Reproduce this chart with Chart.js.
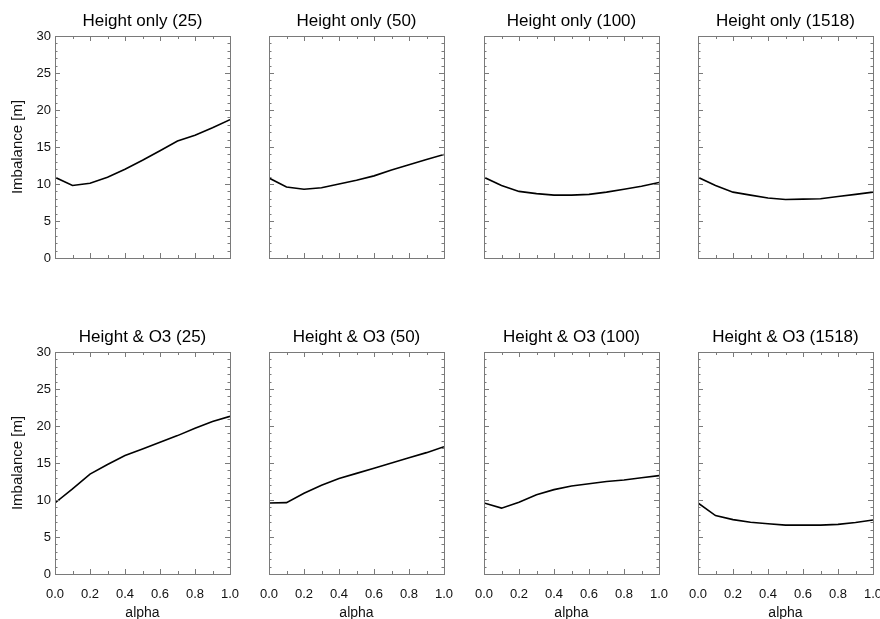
<!DOCTYPE html>
<html>
<head>
<meta charset="utf-8">
<script src="https://cdn.jsdelivr.net/npm/chart.js@4.4.1/dist/chart.umd.min.js"></script>
<style>
  html, body { margin: 0; padding: 0; background: #fff; overflow: hidden; }
  body { width: 880px; height: 619px; position: relative; }
  canvas.panel { position: absolute; }
</style>
</head>
<body>
<script>
// Imbalance vs alpha, 2 rows (height only / height & O3) x 4 cut-offs.
const alpha = [0.0, 0.1, 0.2, 0.3, 0.4, 0.5, 0.6, 0.7, 0.8, 0.9, 1.0];

const heightOnly25   = [10.9, 9.8, 10.1, 10.9, 12.0, 13.2, 14.5, 15.8, 16.6, 17.6, 18.7];
const heightOnly50   = [10.8, 9.6, 9.3, 9.5, 10.0, 10.5, 11.1, 11.9, 12.6, 13.3, 14.0];
const heightOnly100  = [10.9, 9.8, 9.0, 8.7, 8.5, 8.5, 8.6, 8.9, 9.3, 9.7, 10.2];
const heightOnly1518 = [10.9, 9.8, 8.9, 8.5, 8.1, 7.9, 7.95, 8.0, 8.3, 8.6, 8.9];

const heightO3_25   = [9.6, 11.5, 13.5, 14.8, 16.0, 16.9, 17.8, 18.7, 19.7, 20.6, 21.3];
const heightO3_50   = [9.6, 9.65, 10.9, 12.0, 12.9, 13.6, 14.3, 15.0, 15.7, 16.4, 17.2];
const heightO3_100  = [9.6, 8.9, 9.7, 10.7, 11.4, 11.9, 12.2, 12.5, 12.7, 13.0, 13.3];
const heightO3_1518 = [9.6, 7.9, 7.35, 7.0, 6.8, 6.6, 6.6, 6.6, 6.7, 6.95, 7.3];

const panelTitles = [
  'Height only (25)', 'Height only (50)', 'Height only (100)', 'Height only (1518)',
  'Height & O3 (25)', 'Height & O3 (50)', 'Height & O3 (100)', 'Height & O3 (1518)',
];
const panelSeries = [
  heightOnly25, heightOnly50, heightOnly100, heightOnly1518,
  heightO3_25, heightO3_50, heightO3_100, heightO3_1518,
];

const yTitle = 'Imbalance [m]';
const xTitle = 'alpha';

const FONT = "'Liberation Sans', Arial, Helvetica, sans-serif";
const TEXT = '#111';
const FRAME = '#7a7a7a';

// panel geometry: plot box 175x222; the canvas gets equal side margins
// so the built-in title centres over the box
const COL_LEFT = [0, 214, 429, 643];
const ROW_TOP = [0, 316];
const M_SIDE = 55, M_TOP = 36, M_BOTTOM = 50;
const BOX_W = 175, BOX_H = 222;

// IDL-style box: thin frame on all four sides, ticks pointing inwards
const framePlugin = {
  id: 'idlFrame',
  afterDatasetsDraw(chart) {
    const { ctx, chartArea: a, scales: { x, y } } = chart;
    ctx.save();
    ctx.strokeStyle = FRAME;
    ctx.lineWidth = 1;
    ctx.strokeRect(a.left + 0.5, a.top + 0.5, a.width, a.height);
    ctx.beginPath();
    for (let i = 0; i <= 10; i++) {
      const px = Math.round(x.getPixelForValue(i / 10)) + 0.5;
      const len = i % 2 === 0 ? 5 : 3;
      ctx.moveTo(px, a.bottom); ctx.lineTo(px, a.bottom - len);
      ctx.moveTo(px, a.top); ctx.lineTo(px, a.top + len);
    }
    for (let v = 0; v <= 30; v++) {
      const py = Math.round(y.getPixelForValue(v)) + 0.5;
      const len = v % 5 === 0 ? 5 : 2.5;
      ctx.moveTo(a.left, py); ctx.lineTo(a.left + len, py);
      ctx.moveTo(a.right, py); ctx.lineTo(a.right - len, py);
    }
    ctx.stroke();
    ctx.restore();
  },
};

panelSeries.forEach((values, idx) => {
  const row = Math.floor(idx / 4);
  const col = idx % 4;

  const canvas = document.createElement('canvas');
  canvas.className = 'panel';
  canvas.width = M_SIDE + BOX_W + M_SIDE;
  canvas.height = M_TOP + BOX_H + M_BOTTOM;
  canvas.style.width = canvas.width + 'px';
  canvas.style.height = canvas.height + 'px';
  canvas.style.left = COL_LEFT[col] + 'px';
  canvas.style.top = ROW_TOP[row] + 'px';
  document.body.appendChild(canvas);

  new Chart(canvas, {
    type: 'line',
    plugins: [framePlugin],
    data: {
      datasets: [{
        data: alpha.map((a, i) => ({ x: a, y: values[i] })),
        borderColor: '#000',
        borderWidth: 1.6,
        pointRadius: 0,
        tension: 0,
        fill: false,
      }],
    },
    options: {
      responsive: false,
      animation: false,
      devicePixelRatio: 1,
      layout: { padding: 0 },
      plugins: {
        legend: { display: false },
        tooltip: { enabled: false },
        title: {
          display: true,
          text: panelTitles[idx],
          color: '#000',
          font: { family: FONT, size: 17, weight: 'normal' },
          padding: { top: 11.3, bottom: 4.3 },
        },
      },
      scales: {
        x: {
          type: 'linear',
          min: 0,
          max: 1,
          grid: { display: false, drawTicks: false },
          border: { display: false },
          ticks: {
            display: row === 1,
            stepSize: 0.2,
            autoSkip: false,
            maxRotation: 0,
            padding: 13,
            color: TEXT,
            font: { family: FONT, size: 13 },
            callback: (v) => Number(v).toFixed(1),
          },
          title: {
            display: row === 1,
            text: xTitle,
            color: TEXT,
            font: { family: FONT, size: 14 },
            padding: { top: 0, bottom: 2.6 },
          },
          afterFit(scale) {
            scale.height = M_BOTTOM;
            scale.paddingLeft = 0;
            scale.paddingRight = 0;
          },
        },
        y: {
          min: 0,
          max: 30,
          grid: { display: false, drawTicks: false },
          border: { display: false },
          ticks: {
            display: col === 0,
            stepSize: 5,
            padding: 4,
            color: TEXT,
            font: { family: FONT, size: 13 },
          },
          title: {
            display: col === 0,
            text: yTitle,
            color: TEXT,
            font: { family: FONT, size: 15 },
            padding: { top: 8.5, bottom: 0 },
          },
          afterFit(scale) {
            scale.width = M_SIDE;
            scale.paddingTop = 0;
            scale.paddingBottom = 0;
          },
        },
        // empty right-hand axis, only there to balance the left margin
        yRight: {
          position: 'right',
          min: 0,
          max: 30,
          grid: { display: false, drawTicks: false },
          border: { display: false },
          ticks: { display: false },
          afterFit(scale) {
            scale.width = M_SIDE;
            scale.paddingTop = 0;
            scale.paddingBottom = 0;
          },
        },
      },
    },
  });
});
</script>
</body>
</html>
